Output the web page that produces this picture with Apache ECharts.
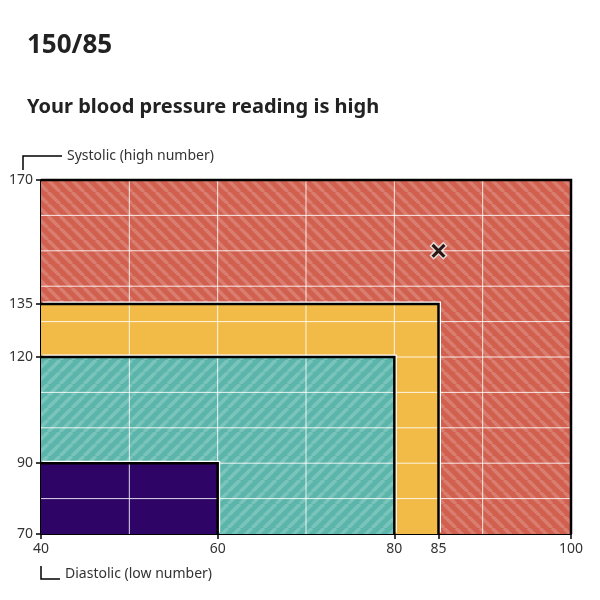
<!DOCTYPE html><html><head><meta charset="utf-8"><script src="https://cdn.jsdelivr.net/npm/echarts@6/dist/echarts.min.js"></script>
<style>html,body{margin:0;background:#fff}#c{width:600px;height:600px}</style></head><body><div id="c"></div><script>
const zoneNames=['High','Pre-high','Ideal','Low'];
const zoneX=[100,85,80,60];
const zoneY=[170,135,120,90];
const zoneColors=['#d1604f','#f2bb48','#5bb5aa','#2e0466'];
const zoneStripe=['#d97d70',null,'#7bc4bb',null];
const xTicks=[40,60,80,85,100];
const yTicks=[70,90,120,135,170];
const gridX=[50,60,70,80,90];
const gridY=[80,90,100,110,120,130,140,150,160];
const reading=[85,150];
function pat(base,stripe,dir){const c=document.createElement('canvas');c.width=c.height=12;const g=c.getContext('2d');g.fillStyle=base;g.fillRect(0,0,12,12);g.strokeStyle=stripe;g.lineWidth=3.5;for(let k=-12;k<=24;k+=12){g.beginPath();if(dir>0){g.moveTo(k,0);g.lineTo(k+12,12);}else{g.moveTo(k,12);g.lineTo(k+12,0);}g.stroke();}return {image:c,repeat:'repeat'};}
const fills=zoneColors.map((c,i)=>zoneStripe[i]?pat(c,zoneStripe[i],i===0?1:-1):c);
const chart=echarts.init(document.getElementById('c'));
function render(params,api){
 const ch=[];
 const o=api.coord([40,70]);
 zoneX.forEach((x,i)=>{const p=api.coord([x,zoneY[i]]);ch.push({type:'rect',shape:{x:o[0],y:p[1],width:p[0]-o[0],height:o[1]-p[1]},style:{fill:fills[i]}});});
 gridX.forEach(x=>{const a=api.coord([x,70]),b=api.coord([x,170]);ch.push({type:'line',shape:{x1:a[0],y1:a[1],x2:b[0],y2:b[1]},style:{stroke:'rgba(255,255,255,0.85)',lineWidth:1}});});
 gridY.forEach(y=>{const a=api.coord([40,y]),b=api.coord([100,y]);ch.push({type:'line',shape:{x1:a[0],y1:a[1],x2:b[0],y2:b[1]},style:{stroke:'rgba(255,255,255,0.85)',lineWidth:1}});});
 zoneX.forEach((x,i)=>{const p=api.coord([x,zoneY[i]]);const pts=[[o[0],p[1]],[p[0],p[1]],[p[0],o[1]]];
  if(i>0)ch.push({type:'polyline',shape:{points:pts.map(q=>[q[0]+1.5,q[1]-1.5])},style:{stroke:'#fff',lineWidth:2,fill:null}});
  ch.push({type:'polyline',shape:{points:pts},style:{stroke:'#000',lineWidth:2.5,fill:null}});});
 return {type:'group',children:ch};
}
const ax={axisLine:{show:true,lineStyle:{color:'#000',width:2}},splitLine:{show:false},axisLabel:{color:'#333',fontSize:14,fontFamily:'Noto Sans'},axisTick:{show:true,length:5,lineStyle:{color:'#000',width:1.5}}};
chart.setOption({
 animation:false,
 textStyle:{fontFamily:'Noto Sans'},
 title:[{text:'150/85',left:22,top:28,textStyle:{fontSize:26,fontWeight:'bold',color:'#222'}},
        {text:'Your blood pressure reading is high',left:22,top:92,textStyle:{fontSize:20,fontWeight:'bold',color:'#222'}}],
 grid:{left:41,right:29,top:180,bottom:66},
 xAxis:Object.assign({type:'value',min:40,max:100,axisLabel:Object.assign({},ax.axisLabel,{customValues:xTicks}),axisTick:Object.assign({},ax.axisTick,{customValues:xTicks})},{axisLine:ax.axisLine,splitLine:ax.splitLine}),
 yAxis:Object.assign({type:'value',min:70,max:170,axisLabel:Object.assign({},ax.axisLabel,{customValues:yTicks}),axisTick:Object.assign({},ax.axisTick,{customValues:yTicks})},{axisLine:ax.axisLine,splitLine:ax.splitLine}),
 series:[{type:'custom',renderItem:render,data:[[0]],silent:true},
  {type:'scatter',data:[reading],symbol:'path://M2,0 L5,3 L8,0 L10,2 L7,5 L10,8 L8,10 L5,7 L2,10 L0,8 L3,5 L0,2 Z',symbolSize:16,itemStyle:{color:'#000',borderColor:'#fff',borderWidth:1.5},z:10}],
 graphic:[
  {type:'polyline',shape:{points:[[23,170],[23,156],[62,156]]},style:{stroke:'#000',lineWidth:1.5,fill:null}},
  {type:'text',left:67,top:149,style:{text:'Systolic (high number)',fontSize:14,fill:'#333',fontFamily:'Noto Sans'}},
  {type:'polyline',shape:{points:[[41,566],[41,579],[60,579]]},style:{stroke:'#000',lineWidth:1.5,fill:null}},
  {type:'text',left:65,top:567,style:{text:'Diastolic (low number)',fontSize:14,fill:'#333',fontFamily:'Noto Sans'}}
 ]
});
</script></body></html>
